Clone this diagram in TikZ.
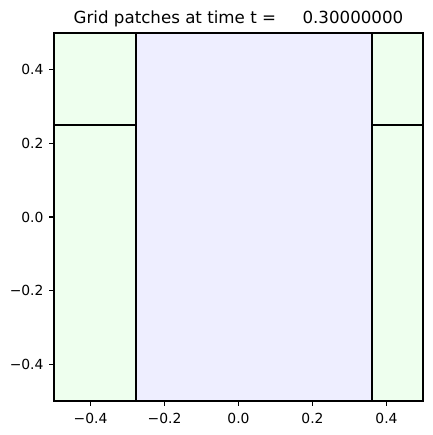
\documentclass[tikz,border=0pt]{standalone}
\usepackage{fontspec}
\setmainfont{DejaVu Sans}
\usetikzlibrary{positioning}
\definecolor{cverde}{HTML}{EEFFEE}
\definecolor{cazul}{HTML}{EEEEFF}
\tikzset{
  parchev/.style={fill=cverde, draw=black, line width=1.5pt},
  parchea/.style={fill=cazul, draw=black, line width=1.5pt},
  eje/.style={draw=black, line width=0.8pt},
  marca/.style={draw=black, line width=0.8pt},
  etq/.style={font=\fontsize{10}{12}\selectfont, inner sep=0pt},
  titulo/.style={font=\fontsize{12}{14}\selectfont, inner sep=0pt, anchor=base},
}
\begin{document}
\begin{tikzpicture}[x=0.72pt, y=0.72pt]
  \useasboundingbox (0,0) rectangle (432,435);
  % axes in data coordinates, origin at the middle of the box
  \begin{scope}[shift={(238.5,218)}, x=266.4pt, y=264.96pt]
    \coordinate (sw) at (-0.5,-0.5);
    \coordinate (ne) at (0.5,0.5);
    \begin{scope}
      \clip (sw) rectangle (ne);
      \draw[parchev] (-0.5,-0.5) rectangle (-0.277,0.25);
      \draw[parchev] (-0.5,0.25) rectangle (-0.277,0.5);
      \draw[parchea] (-0.277,-0.5) rectangle (0.362,0.5);
      \draw[parchev] (0.362,-0.5) rectangle (0.5,0.25);
      \draw[parchev] (0.362,0.25) rectangle (0.5,0.5);
    \end{scope}
    \draw[eje] (sw) rectangle (ne);
    % ticks and labels
    \foreach \v/\t [count=\i] in {-0.4/−0.4, -0.2/−0.2, 0/0.0, 0.2/0.2, 0.4/0.4} {
      \coordinate (bx\i) at (\v,-0.5);
      \coordinate (by\i) at (-0.5,\v);
      \draw[marca] (bx\i) -- ++(0,-3.5pt);
      \draw[marca] (by\i) -- ++(-3.5pt,0);
      \node[etq, anchor=north] (tx\i) at ([yshift=-8.6pt]bx\i) {\t};
      \node[etq, anchor=east] (ty\i) at ([xshift=-7pt]by\i) {\t};
    }
    \node[titulo] (tit) at ([yshift=6.5pt]0,0.5) {Grid patches at time t =\ \ \ \ \ 0.30000000};
  \end{scope}
\end{tikzpicture}
\end{document}
